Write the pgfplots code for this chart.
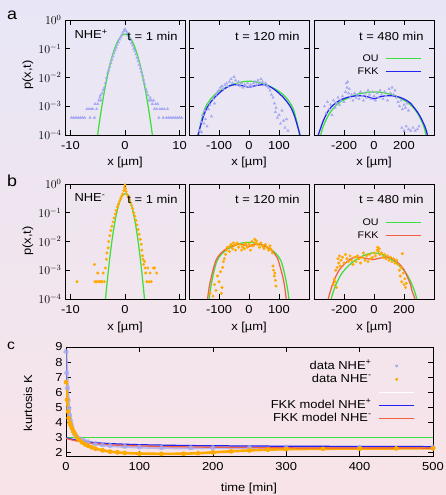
\documentclass[border=0pt]{standalone}
\usepackage{fontspec}
\setmainfont{Liberation Sans}[FakeStretch=1.12]
\usepackage{pgfplots}
\pgfplotsset{compat=1.18}

\definecolor{bgtop}{HTML}{E8E6F6}
\definecolor{bgbot}{HTML}{F8E4E8}
\definecolor{dplus}{HTML}{A4A9F2}
\definecolor{dminus}{HTML}{FFAA00}
\definecolor{ou}{HTML}{3CE03C}
\definecolor{fkkp}{HTML}{2222F2}
\definecolor{fkkm}{HTML}{F26040}

\newcommand\fs{\fontsize{11.6}{13}\selectfont}

\pgfplotsset{
  mypanel/.style={
    scale only axis, anchor=south west,
    width=120bp, height=115bp,
    log basis y=10, ymin=1e-4, ymax=1,
    ytick={1e-4,1e-3,1e-2,1e-1,1},
    axis line style={line width=0.9pt},
    every tick/.style={black, line width=0.6pt},
    major tick length=5bp, minor tick length=2.5bp,
    tick label style={font=\fs},
    /pgf/number format/assume math mode=true,
    xticklabel style={yshift=-3bp},
  },
  mymid/.style={yticklabels={}},
  myleft/.style={
    xmin=-11, xmax=11, xtick={-10,0,10}, xticklabels={-10,0,10},
  },
  myleg/.style={
    legend style={draw=none, fill=none,
      at={(axis description cs:0.925,0.73)}, anchor=north east,
      font=\fontsize{9.6}{10}\selectfont, row sep=2bp, column sep=6bp,
      nodes={inner sep=1bp, text height=7bp, text depth=2bp}},
    legend cell align=right, legend plot pos=right,
    legend image code/.code={\draw[##1] (0bp,0bp) -- (35bp,0bp);},
  },
  mydp/.style={only marks, mark=triangle*, mark size=1.4bp, dplus, mark options={draw=none, fill=dplus}},
  mydm/.style={only marks, mark=*, mark size=1.3bp, dminus, mark options={draw=none, fill=dminus}},
  mycrv/.style={line width=1.25pt, smooth, no marks},
}

\begin{document}
\begin{tikzpicture}
\shade[top color=bgtop, bottom color=bgbot] (0,0) rectangle (446bp,495bp);
\useasboundingbox (0,0) rectangle (446bp,495bp);

% ---------------- panel a, t = 1 min
\begin{semilogyaxis}[mypanel, myleft, at={(65bp,360bp)}]
\addplot[mydp] table {
-9.8 4e-4
-9.4 4e-4
-9.0 4e-4
-8.6 4e-4
-8.2 4e-4
-7.8 4e-4
-7.4 4e-4
-7.0 8e-4
-6.6 8e-4
-6.4 4e-4
-6.2 8e-4
-5.9 8e-4
-5.6 4e-4
-5.5 1.2e-3
-5.2 8e-4
-5.0 1.2e-3
-4.8 1.6e-3
-4.6 2.0e-3
-4.5 2.4e-3
-4.4 1.6e-3
-4.2 2.8e-3
-4.0 3.6e-3
-3.8 4.4e-3
-3.6 6.4e-3
-3.4 9.6e-3
-3.2 1.4e-2
-3.0 1.8e-2
-2.8 2.4e-2
-2.6 3.2e-2
-2.4 4.2e-2
-2.2 5.4e-2
-2.0 7.0e-2
-1.8 8.8e-2
-1.6 0.11
-1.4 0.14
-1.2 0.17
-1.0 0.21
-0.8 0.25
-0.6 0.30
-0.4 0.36
-0.2 0.42
0.0 0.48
0.2 0.41
0.4 0.35
0.6 0.29
0.8 0.24
1.0 0.20
1.2 0.16
1.4 0.13
1.6 0.10
1.8 8.2e-2
2.0 6.4e-2
2.2 4.9e-2
2.4 3.8e-2
2.6 2.8e-2
2.8 2.1e-2
3.0 1.6e-2
3.2 1.2e-2
3.4 8.4e-3
3.6 6.0e-3
3.8 4.0e-3
4.0 3.2e-3
4.2 2.4e-3
4.4 1.6e-3
4.6 2.0e-3
4.8 1.6e-3
5.0 1.2e-3
5.2 1.6e-3
5.4 8e-4
5.6 1.2e-3
5.8 8e-4
6.0 1.2e-3
6.2 4e-4
6.4 8e-4
6.8 8e-4
7.0 4e-4
7.2 8e-4
7.6 4e-4
7.8 8e-4
8.0 4e-4
8.4 4e-4
8.8 4e-4
9.2 4e-4
9.6 4e-4
10.0 4e-4
10.4 4e-4
};
\addplot[mycrv, ou] table {
-5.5 2.0e-5
-5.25 4.7e-5
-5.0 1.07e-4
-4.75 2.34e-4
-4.5 4.89e-4
-4.25 9.83e-4
-4.0 1.906e-3
-3.75 3.54e-3
-3.5 6.33e-3
-3.0 1.791e-2
-2.75 2.84e-2
-2.5 4.318e-2
-2.25 6.31e-2
-2.0 8.87e-2
-1.75 0.1197
-1.5 0.1553
-1.25 0.1935
-1.0 0.2316
-0.75 0.2665
-0.5 0.2945
-0.25 0.3127
0 0.319
0.25 0.3127
0.5 0.2945
0.75 0.2665
1.0 0.2316
1.25 0.1935
1.5 0.1553
1.75 0.1197
2.0 8.87e-2
2.25 6.31e-2
2.5 4.318e-2
2.75 2.84e-2
3.0 1.791e-2
3.5 6.33e-3
3.75 3.54e-3
4.0 1.906e-3
4.25 9.83e-4
4.5 4.89e-4
4.75 2.34e-4
5.0 1.07e-4
5.25 4.7e-5
5.5 2.0e-5
};
\end{semilogyaxis}

% ---------------- panel a, t = 120 min
\begin{semilogyaxis}[mypanel, mymid, at={(189bp,360bp)}, xmin=-200, xmax=200,
  xtick={-100,0,100}, xticklabels={-100,0,100}]
\addplot[mydp] table {
-165 1.41e-4
-160 2.82e-4
-158 1.26e-4
-155 5.01e-4
-150 2.51e-4
-148 7.08e-4
-145 3.55e-4
-140 2.0e-4
-135 7.94e-4
-130 1.12e-3
-125 4.47e-4
-120 1.78e-3
-115 1.26e-3
-110 2.51e-3
-105 3.16e-3
-100 3.55e-3
-95 4.47e-3
-90 5.01e-3
-85 3.98e-3
-80 5.62e-3
-75 6.31e-3
-70 5.01e-3
-65 7.08e-3
-60 8.91e-3
-55 6.31e-3
-50 1.05e-2
-45 7.94e-3
-40 5.62e-3
-35 7.08e-3
-30 5.01e-3
-25 6.31e-3
-20 4.47e-3
-15 5.62e-3
-10 5.01e-3
-5 6.31e-3
0 4.79e-3
5 5.62e-3
10 5.01e-3
15 6.31e-3
20 7.08e-3
25 5.62e-3
30 7.94e-3
35 6.31e-3
40 8.91e-3
45 7.08e-3
50 5.62e-3
55 6.31e-3
60 5.01e-3
65 4.47e-3
70 3.55e-3
75 2.51e-3
80 2.0e-3
85 1.26e-3
88 6.31e-4
90 8.91e-4
95 3.98e-4
100 5.01e-4
105 2.51e-4
110 7.08e-4
115 3.16e-4
120 1.78e-4
125 3.55e-4
130 1.41e-4
};
\addplot[mycrv, ou] table {
-172 3.16e-5
-168 1.0e-4
-163 2.0e-4
-156 3.98e-4
-148 7.94e-4
-138 1.26e-3
-125 1.91e-3
-110 2.75e-3
-90 3.80e-3
-70 4.90e-3
-50 5.89e-3
-30 6.76e-3
-15 7.24e-3
0 7.41e-3
15 7.24e-3
30 6.76e-3
50 5.89e-3
70 4.90e-3
90 3.80e-3
110 2.75e-3
125 1.91e-3
138 1.26e-3
148 7.94e-4
156 3.98e-4
163 2.0e-4
168 1.0e-4
172 3.16e-5
};
\addplot[mycrv, fkkp] table {
-175 5.0e-5
-170 1.0e-4
-162 2.0e-4
-152 4.47e-4
-140 8.91e-4
-127 1.41e-3
-115 2.0e-3
-100 2.82e-3
-85 3.80e-3
-70 4.79e-3
-55 5.50e-3
-45 5.62e-3
-30 5.37e-3
-15 5.01e-3
0 4.57e-3
15 5.01e-3
30 5.37e-3
45 5.62e-3
55 5.50e-3
70 4.79e-3
85 3.80e-3
100 2.82e-3
115 2.0e-3
127 1.41e-3
140 8.91e-4
152 4.47e-4
162 2.0e-4
170 1.0e-4
175 5.0e-5
};
\end{semilogyaxis}

% ---------------- panel a, t = 480 min
\begin{semilogyaxis}[mypanel, mymid, myleg, at={(314bp,360bp)}, xmin=-400, xmax=400,
  xtick={-200,0,200}, xticklabels={-200,0,200}]
\addplot[mydp, forget plot] table {
-330 1.0e-3
-320 5.62e-4
-310 1.41e-3
-300 7.94e-4
-290 1.12e-3
-280 5.01e-4
-270 1.58e-3
-260 8.91e-4
-250 1.26e-3
-240 2.0e-3
-230 1.12e-3
-220 1.58e-3
-210 2.24e-3
-200 1.41e-3
-190 3.16e-3
-185 6.31e-3
-180 4.47e-3
-175 7.08e-3
-170 2.82e-3
-165 3.98e-3
-160 2.0e-3
-150 2.51e-3
-140 1.58e-3
-130 2.82e-3
-120 2.0e-3
-110 2.51e-3
-100 1.78e-3
-90 3.16e-3
-80 2.24e-3
-70 1.58e-3
-60 2.82e-3
-50 2.0e-3
-40 3.55e-3
-30 2.51e-3
-20 1.78e-3
-10 3.16e-3
0 2.24e-3
10 1.58e-3
20 2.82e-3
30 2.0e-3
40 3.55e-3
50 2.51e-3
60 1.78e-3
70 3.16e-3
80 2.24e-3
90 1.58e-3
100 3.98e-3
110 2.82e-3
120 4.47e-3
130 2.51e-3
140 3.55e-3
150 2.0e-3
160 1.41e-3
170 1.0e-3
180 1.58e-3
190 7.94e-4
200 1.12e-3
210 8.91e-4
220 1.26e-3
230 7.08e-4
185 1.78e-4
200 1.41e-4
215 2.0e-4
230 1.58e-4
245 1.41e-4
260 1.78e-4
275 1.41e-4
290 1.58e-4
300 2.0e-4
};
\addplot[mycrv, ou] table {
-366 5.01e-5
-355 1.0e-4
-340 1.91e-4
-320 3.31e-4
-300 5.25e-4
-278 7.59e-4
-250 1.12e-3
-220 1.48e-3
-189 1.78e-3
-150 2.19e-3
-100 2.69e-3
-50 3.02e-3
0 3.16e-3
50 3.02e-3
100 2.69e-3
150 2.19e-3
189 1.74e-3
220 1.41e-3
250 1.05e-3
278 7.08e-4
300 4.68e-4
320 2.82e-4
335 1.78e-4
346 1.0e-4
356 5.01e-5
};
\addlegendentry{OU}
\addplot[mycrv, fkkp] table {
-380 5.01e-5
-371 1.0e-4
-355 1.78e-4
-340 2.95e-4
-320 5.01e-4
-300 7.59e-4
-270 1.12e-3
-233 1.55e-3
-200 1.86e-3
-160 2.14e-3
-100 2.34e-3
-60 2.24e-3
-30 2.04e-3
0 1.82e-3
30 2.04e-3
60 2.24e-3
110 2.34e-3
160 2.14e-3
200 1.78e-3
240 1.32e-3
278 7.59e-4
305 4.68e-4
329 2.63e-4
345 1.66e-4
356 1.0e-4
365 5.01e-5
};
\addlegendentry{FKK}
\end{semilogyaxis}

% ---------------- panel b, t = 1 min
\begin{semilogyaxis}[mypanel, myleft, at={(65bp,196bp)}]
\addplot[mydm] table {
-8.8 4e-4
-5.6 1.6e-3
-5.5 4e-4
-5.2 4e-4
-5.0 8e-4
-4.8 4e-4
-4.6 4e-4
-4.4 4e-4
-4.2 4e-4
-4.0 8e-4
-3.8 4e-4
-3.6 1.2e-3
-3.4 2.4e-3
-3.3 4.0e-3
-3.1 6e-3
-3.0 1.0e-2
-2.8 1.6e-2
-2.6 2.4e-2
-2.4 3.4e-2
-2.2 4.8e-2
-2.0 6.6e-2
-1.8 9e-2
-1.6 0.12
-1.4 0.16
-1.2 0.20
-1.0 0.25
-0.8 0.31
-0.6 0.38
-0.4 0.45
-0.2 0.60
-0.1 0.75
0.0 0.92
0.1 0.70
0.2 0.55
0.4 0.43
0.6 0.36
0.8 0.29
1.0 0.23
1.2 0.18
1.4 0.14
1.6 0.10
1.8 7.5e-2
2.0 5.4e-2
2.2 3.8e-2
2.4 2.6e-2
2.6 1.8e-2
2.8 1.2e-2
3.0 8e-3
3.1 5e-3
3.2 3.2e-3
3.3 2.4e-3
3.4 1.6e-3
3.6 2.0e-3
3.7 1.2e-3
3.8 8e-4
4.0 4e-4
4.2 1.2e-3
4.4 4e-4
4.6 8e-4
4.8 4e-4
5.2 1.2e-3
5.4 1.2e-3
5.8 8e-4
};
\addplot[mycrv, ou] table {
-3.75 4.23e-5
-3.5 1.40e-4
-3.25 4.27e-4
-3.0 1.2e-3
-2.75 3.102e-3
-2.5 7.38e-3
-2.25 1.618e-2
-2.0 3.264e-2
-1.75 6.06e-2
-1.5 0.1037
-1.25 0.1633
-1.0 0.2369
-0.75 0.3162
-0.5 0.3887
-0.25 0.440
0 0.4585
0.25 0.440
0.5 0.3887
0.75 0.3162
1.0 0.2369
1.25 0.1633
1.5 0.1037
1.75 6.06e-2
2.0 3.264e-2
2.25 1.618e-2
2.5 7.38e-3
2.75 3.102e-3
3.0 1.2e-3
3.25 4.27e-4
3.5 1.40e-4
3.75 4.23e-5
};
\end{semilogyaxis}

% ---------------- panel b, t = 120 min
\begin{semilogyaxis}[mypanel, mymid, at={(189bp,196bp)}, xmin=-200, xmax=200,
  xtick={-100,0,100}, xticklabels={-100,0,100}]
\addplot[mydm] table {
-130 1.58e-4
-120 1.26e-4
-115 3.16e-4
-110 2.0e-4
-105 6.31e-4
-100 3.98e-4
-95 8.91e-4
-92 1.58e-4
-90 2.51e-4
-88 1.26e-3
-85 2.0e-3
-82 2.51e-3
-78 3.55e-3
-75 5.01e-3
-72 6.31e-3
-70 6.31e-3
-65 4.47e-3
-62 7.08e-3
-60 7.94e-3
-55 5.62e-3
-52 8.91e-3
-50 7.08e-3
-45 5.01e-3
-42 7.94e-3
-40 8.91e-3
-35 6.31e-3
-30 7.94e-3
-25 5.01e-3
-22 6.31e-3
-20 7.08e-3
-15 5.62e-3
-12 7.94e-3
-10 8.91e-3
-5 6.31e-3
0 7.94e-3
5 5.01e-3
8 7.08e-3
10 1.0e-2
15 7.08e-3
19 1.20e-2
22 8.91e-3
25 1.05e-2
28 7.94e-3
30 7.94e-3
35 6.31e-3
40 8.91e-3
45 7.08e-3
48 6.31e-3
50 5.62e-3
55 7.94e-3
60 6.31e-3
65 5.01e-3
70 7.08e-3
72 5.62e-3
75 5.01e-3
78 3.98e-3
80 1.41e-3
82 1.0e-3
84 6.31e-4
86 7.94e-4
88 4.47e-4
90 2.82e-4
};
\addplot[mycrv, ou] table {
-138 3.98e-5
-133 1.0e-4
-130 1.78e-4
-125 3.55e-4
-117 8.91e-4
-107 2.09e-3
-95 3.31e-3
-80 4.68e-3
-60 6.31e-3
-30 8.51e-3
0 9.33e-3
30 8.51e-3
60 6.31e-3
80 4.68e-3
95 3.31e-3
107 2.09e-3
117 8.91e-4
125 3.55e-4
130 1.78e-4
133 1.0e-4
138 3.98e-5
};
\addplot[mycrv, fkkm] table {
-142 3.98e-5
-138 1.0e-4
-133 2.51e-4
-127 5.01e-4
-120 1.0e-3
-110 2.24e-3
-95 3.80e-3
-75 5.62e-3
-50 7.41e-3
-30 8.13e-3
-15 7.59e-3
-3 6.61e-3
10 7.59e-3
25 8.13e-3
45 7.59e-3
65 6.03e-3
85 3.80e-3
95 2.63e-3
107 1.0e-3
115 4.47e-4
120 2.24e-4
124 1.0e-4
128 3.98e-5
};
\end{semilogyaxis}

% ---------------- panel b, t = 480 min
\begin{semilogyaxis}[mypanel, mymid, myleg, at={(314bp,196bp)}, xmin=-400, xmax=400,
  xtick={-200,0,200}, xticklabels={-200,0,200}]
\addplot[mydm, forget plot] table {
-270 3.16e-4
-265 5.01e-4
-260 3.98e-4
-255 1.0e-3
-250 2.51e-4
-245 1.26e-3
-240 2.51e-3
-235 1.78e-3
-230 3.16e-3
-225 1.41e-3
-220 2.24e-3
-210 2.82e-3
-200 1.78e-3
-190 3.55e-3
-180 2.51e-3
-170 2.0e-3
-160 3.16e-3
-150 2.24e-3
-140 1.58e-3
-130 2.82e-3
-120 2.0e-3
-110 3.16e-3
-100 2.51e-3
-90 1.78e-3
-80 2.82e-3
-70 3.98e-3
-60 2.24e-3
-50 3.16e-3
-40 2.0e-3
-30 3.55e-3
-20 2.51e-3
-10 2.82e-3
0 3.98e-3
10 3.16e-3
20 5.01e-3
25 6.31e-3
30 4.47e-3
35 5.62e-3
40 3.55e-3
50 3.98e-3
60 2.82e-3
70 3.55e-3
80 2.51e-3
90 3.16e-3
100 2.24e-3
110 2.82e-3
120 2.0e-3
130 2.51e-3
140 1.78e-3
150 2.24e-3
160 1.58e-3
170 1.0e-3
175 6.31e-4
180 1.26e-3
185 3.98e-4
189 3.80e-3
195 7.94e-4
200 3.16e-4
205 5.01e-4
210 2.51e-4
215 3.55e-4
};
\addplot[mycrv, ou] table {
-292 3.98e-5
-285 1.0e-4
-265 2.24e-4
-245 3.98e-4
-220 7.08e-4
-190 1.12e-3
-150 1.78e-3
-100 2.69e-3
-50 3.55e-3
0 4.07e-3
50 3.55e-3
100 2.69e-3
150 1.78e-3
190 1.12e-3
220 7.08e-4
245 3.98e-4
265 2.24e-4
285 1.0e-4
292 3.98e-5
};
\addlegendentry{OU}
\addplot[mycrv, fkkm] table {
-312 3.98e-5
-305 1.0e-4
-290 1.91e-4
-278 3.02e-4
-255 6.03e-4
-233 1.0e-3
-200 1.58e-3
-160 2.40e-3
-122 2.88e-3
-80 2.75e-3
-40 2.51e-3
-10 2.34e-3
20 2.51e-3
55 2.75e-3
89 2.88e-3
130 2.40e-3
167 1.70e-3
200 1.05e-3
222 5.89e-4
240 3.55e-4
256 1.74e-4
273 1.0e-4
280 3.98e-5
};
\addlegendentry{FKK}
\end{semilogyaxis}

% ---------------- panel c, kurtosis
\begin{axis}[scale only axis, anchor=south west, at={(66bp,39bp)},
  width=367bp, height=109bp,
  xmin=0, xmax=500, ymin=1.78, ymax=9,
  xtick={0,100,...,500}, ytick={2,...,9},
  axis line style={line width=0.9pt},
  every tick/.style={black, line width=0.6pt},
  major tick length=5bp,
  tick label style={font=\fs},
  /pgf/number format/assume math mode=true,
  xticklabel style={yshift=-3bp},
  legend style={draw=none, fill=none,
    at={(axis description cs:0.959,0.90)}, anchor=north east,
    font=\fs, row sep=0.5bp, column sep=6bp,
    nodes={inner sep=1bp, text height=8bp, text depth=2.5bp}},
  legend cell align=right, legend plot pos=right,
  legend image code/.code={\draw[#1] (0bp,0bp) -- (35bp,0bp);},
]
\addplot[dplus, opacity=0.75, line width=3pt, line join=round,
  mark=triangle*, mark size=1.4bp, mark options={draw=none, fill=dplus}, forget plot] table {
0 8.70
1 7.30
2 6.30
3 5.50
4 4.95
5 4.50
6 4.15
7 3.90
8 3.70
10 3.42
12 3.22
15 3.05
20 2.88
25 2.78
30 2.70
40 2.60
50 2.52
60 2.47
80 2.41
100 2.37
130 2.33
170 2.32
200 2.33
250 2.34
300 2.35
400 2.35
500 2.36
};
\addplot[dminus, line width=2.6pt, line join=round,
  mark=*, mark size=1.3bp, mark options={draw=none, fill=dminus}, forget plot] table {
0 6.67
1.4 5.50
2.7 4.73
3.6 4.29
5 4.00
6 3.85
8 3.62
10 3.42
12 3.25
15 3.00
18 2.85
22 2.68
26 2.55
30 2.45
35 2.35
40 2.27
50 2.15
60 2.07
70 2.02
80 1.98
100 1.94
130 1.92
160 1.93
180 1.96
200 2.02
225 2.09
250 2.15
275 2.20
300 2.23
350 2.26
400 2.27
450 2.28
500 2.29
};
\addplot[ou, line width=1.25pt, forget plot] coordinates {(0,3) (500,3)};
\addplot[fkkp, line width=1.25pt, smooth, forget plot] table {
0 3.00
5 2.93
10 2.87
20 2.78
30 2.71
40 2.66
60 2.60
80 2.56
100 2.53
130 2.50
170 2.47
200 2.46
250 2.44
300 2.43
400 2.41
500 2.40
};
\addplot[fkkm, line width=1.25pt, smooth, forget plot] table {
0 2.95
5 2.88
10 2.82
20 2.73
30 2.66
40 2.60
60 2.52
80 2.48
100 2.45
130 2.41
170 2.38
200 2.36
250 2.34
300 2.32
400 2.31
500 2.30
};
\addlegendimage{legend image code/.code={\fill[dplus] (17.5bp,-1bp) -- (19bp,1.2bp) -- (16bp,1.2bp) -- cycle;}}
\addlegendentry{data NHE\textsuperscript{+}}
\addlegendimage{legend image code/.code={\fill[dminus] (17.5bp,0bp) circle (1.3bp);}}
\addlegendentry{data NHE\textsuperscript{-}}
\addlegendimage{white, line width=1.25pt}
\addlegendentry{}
\addlegendimage{fkkp, line width=1.25pt}
\addlegendentry{FKK model NHE\textsuperscript{+}}
\addlegendimage{fkkm, line width=1.25pt}
\addlegendentry{FKK model NHE\textsuperscript{-}}
\end{axis}

% ---------------- labels
\node[font=\fontsize{16}{18}\selectfont] at (12bp,480bp) {a};
\node[font=\fontsize{16}{18}\selectfont] at (12bp,314bp) {b};
\node[font=\fontsize{14}{16}\selectfont] at (11bp,149bp) {c};

\node[font=\fs, anchor=west] at (71bp,461bp) {NHE\textsuperscript{+}};
\node[font=\fs, anchor=west] at (71bp,297bp) {NHE\textsuperscript{-}};

\node[font=\fs, anchor=east] at (181bp,458.5bp) {t = 1 min};
\node[font=\fs, anchor=east] at (303bp,458.5bp) {t = 120 min};
\node[font=\fs, anchor=east] at (427bp,458.5bp) {t = 480 min};
\node[font=\fs, anchor=east] at (181bp,295.5bp) {t = 1 min};
\node[font=\fs, anchor=east] at (303bp,295.5bp) {t = 120 min};
\node[font=\fs, anchor=east] at (427bp,295.5bp) {t = 480 min};

\node[font=\fs, rotate=90] at (28bp,420bp) {p(x,t)};
\node[font=\fs, rotate=90] at (28bp,254bp) {p(x,t)};
\node[font=\fs, rotate=90] at (28bp,92bp) {kurtosis K};

\node[font=\fs] at (125bp,332.5bp) {x [µm]};
\node[font=\fs] at (249bp,332.5bp) {x [µm]};
\node[font=\fs] at (374bp,332.5bp) {x [µm]};
\node[font=\fs] at (125bp,167.5bp) {x [µm]};
\node[font=\fs] at (249bp,167.5bp) {x [µm]};
\node[font=\fs] at (374bp,167.5bp) {x [µm]};
\node[font=\fs] at (249bp,6bp) {time [min]};
\end{tikzpicture}
\end{document}
